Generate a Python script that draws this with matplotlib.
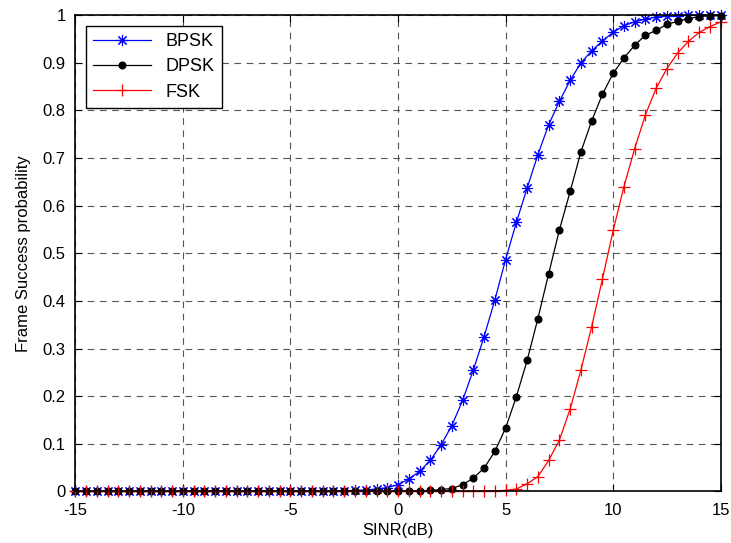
import numpy as np
import matplotlib
matplotlib.use("Agg")
import matplotlib.pyplot as plt

plt.rcParams['font.family'] = ['Liberation Sans', 'DejaVu Sans']
plt.rcParams['axes.unicode_minus'] = False

# SINR grid in dB, one sample every 0.5 dB
Sinr = np.arange(-15, 15.01, 0.5)

# frame success probability above the zero floor, keyed by SINR
BpskTail = {-2.5: 0.001, -2.0: 0.002, -1.5: 0.003, -1.0: 0.005, -0.5: 0.008,
            0.0: 0.014, 0.5: 0.026, 1.0: 0.042, 1.5: 0.065, 2.0: 0.098,
            2.5: 0.138, 3.0: 0.191, 3.5: 0.255, 4.0: 0.325, 4.5: 0.402,
            5.0: 0.487, 5.5: 0.565, 6.0: 0.637, 6.5: 0.707, 7.0: 0.770,
            7.5: 0.819, 8.0: 0.863, 8.5: 0.900, 9.0: 0.925, 9.5: 0.946,
            10.0: 0.964, 10.5: 0.978, 11.0: 0.986, 11.5: 0.992, 12.0: 0.996,
            12.5: 0.998, 13.0: 0.999, 13.5: 1.0, 14.0: 1.0, 14.5: 1.0, 15.0: 1.0}

DpskTail = {1.0: 0.001, 1.5: 0.002, 2.0: 0.004, 2.5: 0.006, 3.0: 0.014,
            3.5: 0.028, 4.0: 0.049, 4.5: 0.084, 5.0: 0.133, 5.5: 0.199,
            6.0: 0.275, 6.5: 0.363, 7.0: 0.457, 7.5: 0.549, 8.0: 0.630,
            8.5: 0.713, 9.0: 0.778, 9.5: 0.834, 10.0: 0.878, 10.5: 0.910,
            11.0: 0.937, 11.5: 0.958, 12.0: 0.968, 12.5: 0.981, 13.0: 0.987,
            13.5: 0.993, 14.0: 0.997, 14.5: 0.999, 15.0: 0.999}

FskTail = {4.5: 0.001, 5.0: 0.002, 5.5: 0.005, 6.0: 0.016, 6.5: 0.031,
           7.0: 0.065, 7.5: 0.108, 8.0: 0.173, 8.5: 0.255, 9.0: 0.346,
           9.5: 0.446, 10.0: 0.548, 10.5: 0.640, 11.0: 0.720, 11.5: 0.791,
           12.0: 0.847, 12.5: 0.888, 13.0: 0.921, 13.5: 0.945, 14.0: 0.964,
           14.5: 0.976, 15.0: 0.986}


def Fill_Series(Tail):
    return np.array([Tail.get(float(s), 0.0) for s in Sinr])


Bpsk = Fill_Series(BpskTail)
Dpsk = Fill_Series(DpskTail)
Fsk = Fill_Series(FskTail)

Fig = plt.figure(figsize=(7.31, 5.43), dpi=100)
Ax = Fig.add_axes([0.103, 0.095, 0.883, 0.877])

# 8-spoke asterisk like the classic '*' marker
Asterisk = (8, 2, 0)
Ax.plot(Sinr, Bpsk, color='blue', lw=0.9, marker=Asterisk, ms=8, mew=0.8,
        label='BPSK', clip_on=False)
Ax.plot(Sinr, Dpsk, color='black', lw=0.9, marker='o', ms=4.8,
        label='DPSK', clip_on=False)
Ax.plot(Sinr, Fsk, color='red', lw=0.9, marker='+', ms=9, mew=0.9,
        label='FSK', clip_on=False)

Ax.set_xlim(-15, 15)
Ax.set_ylim(0, 1)
Ax.set_xticks(np.arange(-15, 16, 5))
Ax.set_yticks(np.arange(0, 1.01, 0.1))
Ax.set_yticklabels(['0', '0.1', '0.2', '0.3', '0.4', '0.5', '0.6', '0.7', '0.8', '0.9', '1'])
Ax.grid(True, color='#555555', linestyle=(0, (6, 5)), lw=0.8)
Ax.tick_params(direction='in', labelsize=12, length=5, top=True, right=True)
Ax.tick_params(axis='x', pad=8)
Ax.tick_params(axis='y', pad=7)
for Spine in Ax.spines.values():
    Spine.set_linewidth(1.2)

Ax.set_xlabel('SINR(dB)', fontsize=12, labelpad=4)
Ax.set_ylabel('Frame Success probability', fontsize=12, labelpad=8)

Leg = Ax.legend(loc='upper left', fontsize=13, fancybox=False, edgecolor='black',
                framealpha=1, handlelength=3.2, borderaxespad=0.6, labelspacing=0.45)
Leg.get_frame().set_linewidth(1.0)

Fig.savefig('out.png', dpi=100)
